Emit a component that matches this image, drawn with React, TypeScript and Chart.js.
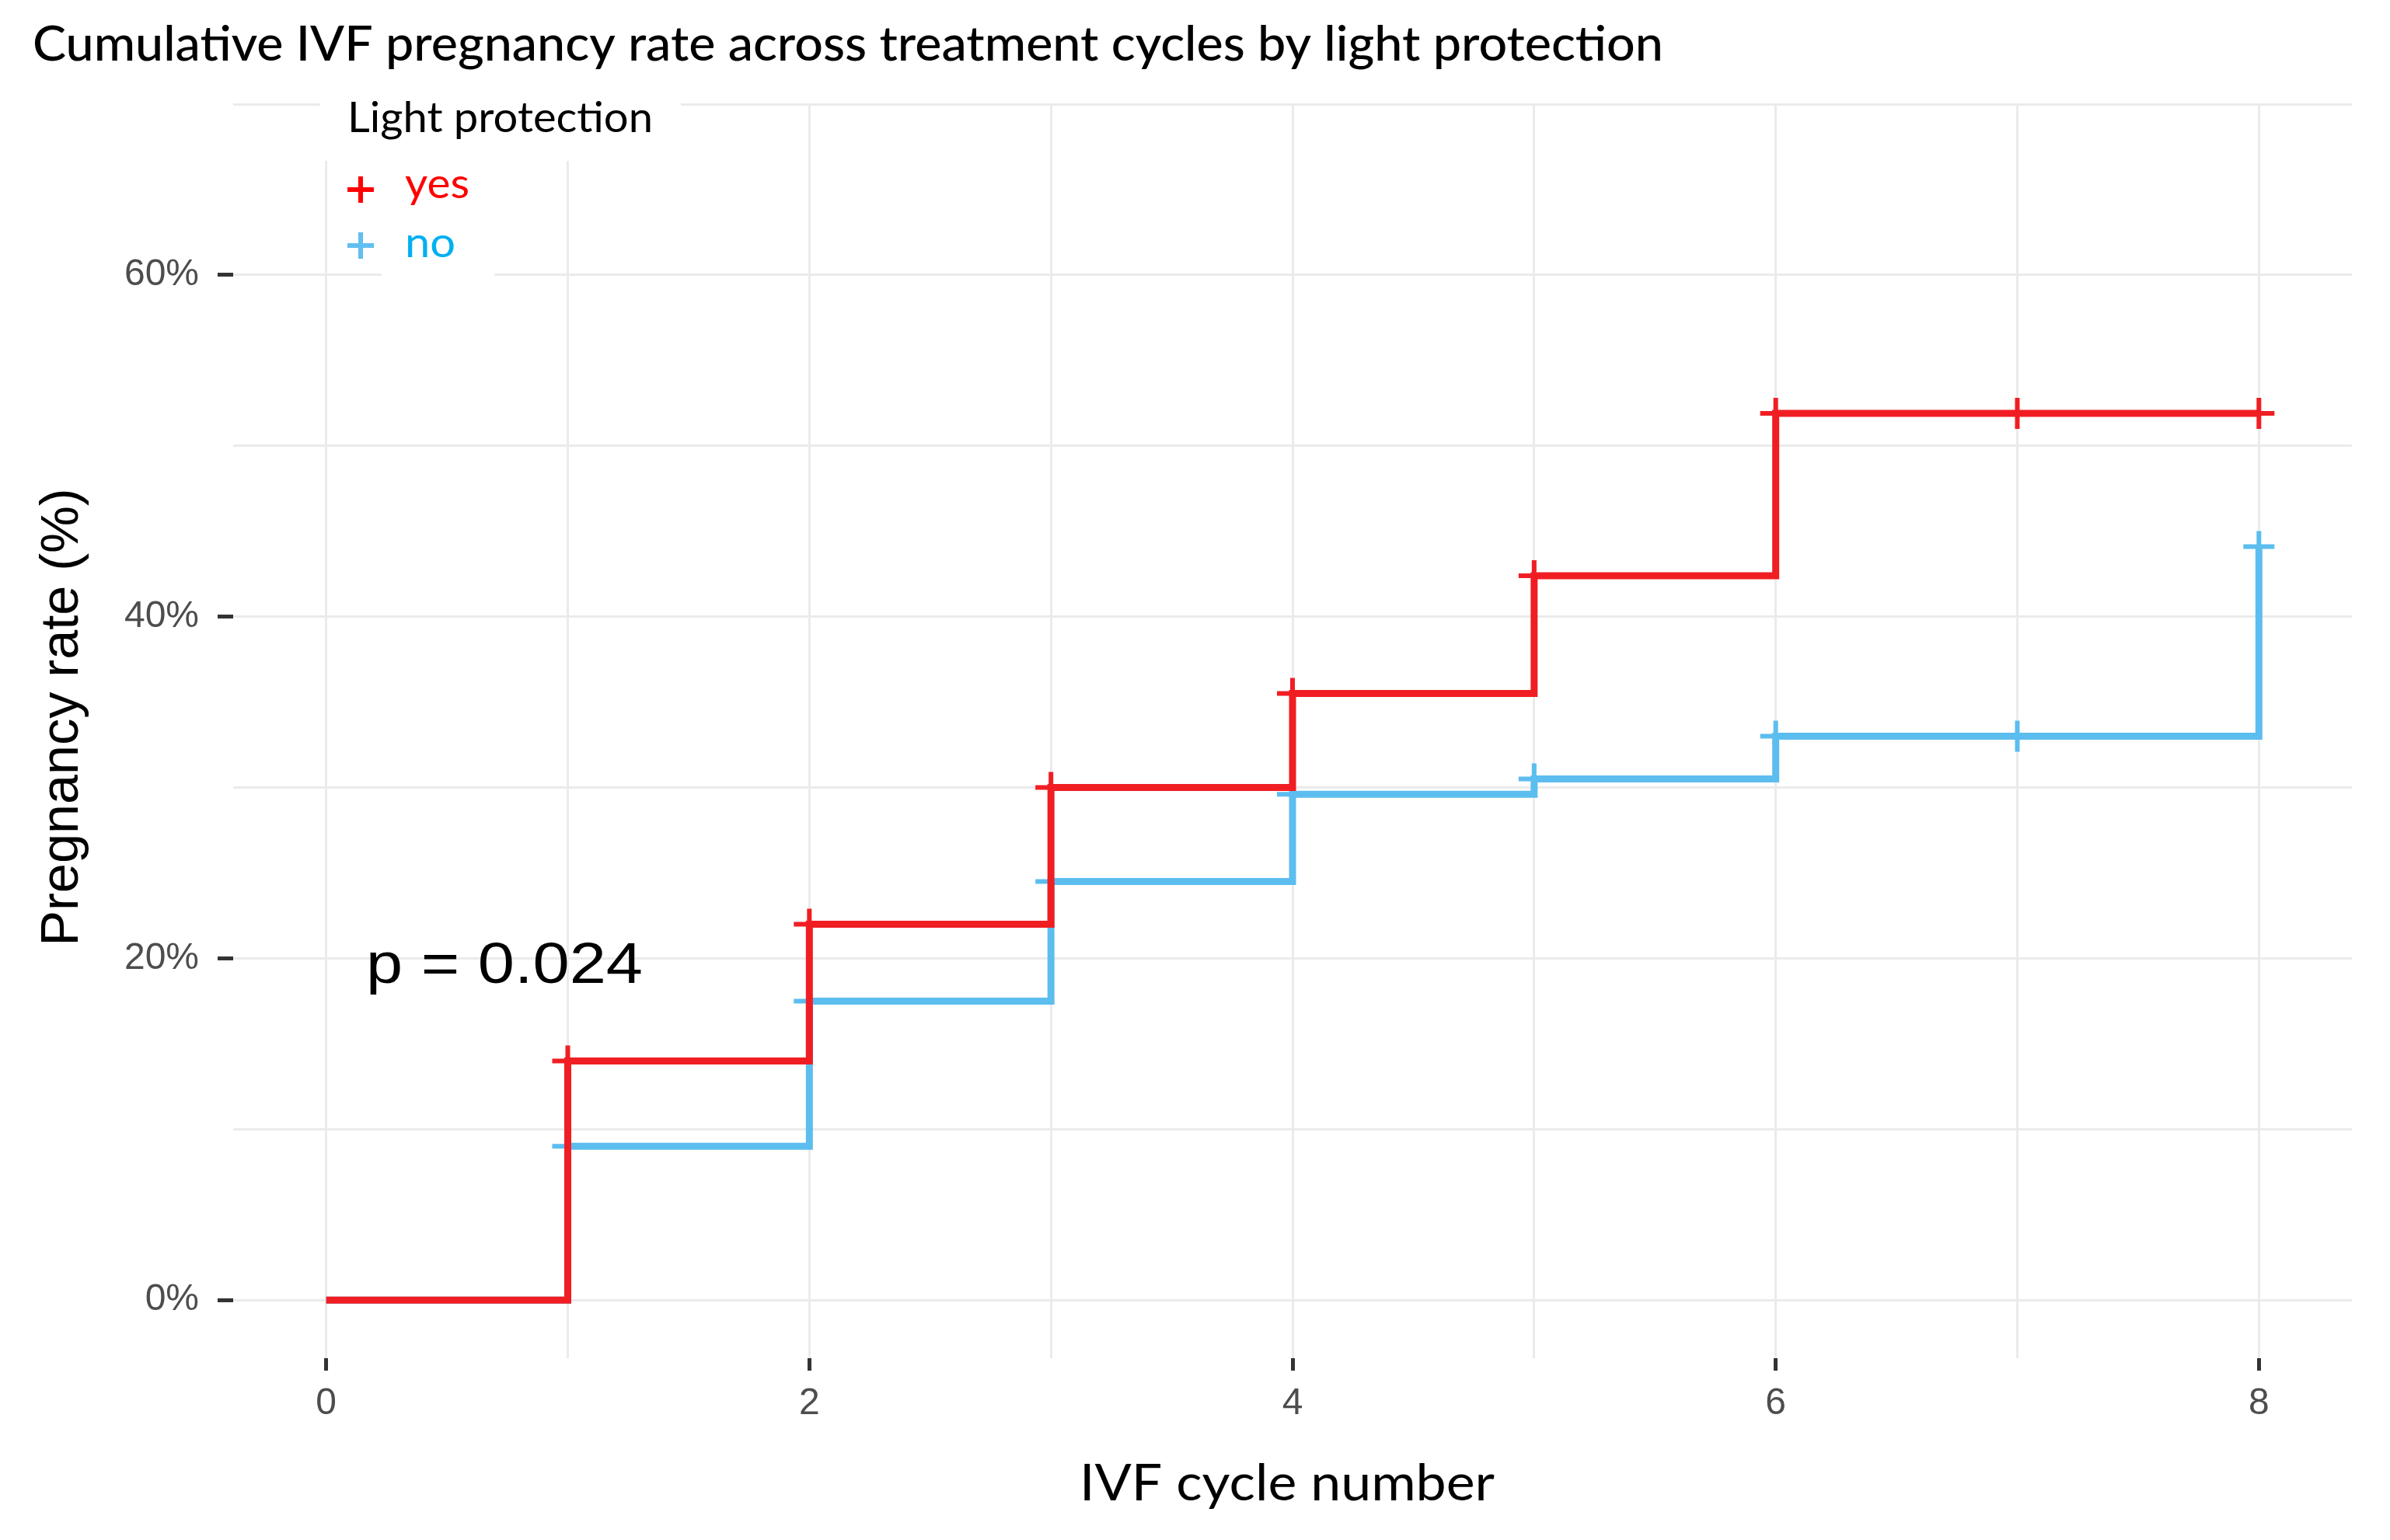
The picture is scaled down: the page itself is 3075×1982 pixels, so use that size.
import { useEffect, useRef } from "react";
import { Chart, registerables, type Plugin } from "chart.js";

Chart.register(...registerables);

// IVF cycle number (x) and cumulative pregnancy rate in % (y)
const cycles = [0, 1, 2, 3, 4, 5, 6, 7, 8];
const yesRate = [0, 14.0, 22.0, 30.0, 35.5, 42.4, 51.9, 51.9, 51.9];
const noRate = [0, 9.0, 17.5, 24.5, 29.6, 30.5, 33.0, 33.0, 44.1];
const censoredCycles = [1, 2, 3, 4, 5, 6, 7, 8];
const groupLabels = ["yes", "no"];
const xTickLabels = ["0", "2", "4", "6", "8"];
const yTickLabels = ["0%", "20%", "40%", "60%"];

const TITLE = "Cumulative IVF pregnancy rate across treatment cycles by light protection";
const LEGEND_TITLE = "Light protection";
const P_VALUE = "p = 0.024";

const W = 3075;
const H = 1982;
const RED = "#F01E23";
const BLUE = "#5CBDEF";
const LABEL_COLORS = ["#FF0000", "#00B0F0"];
const SYMBOL_COLORS = ["#FF0000", "#62BEF0"];
const CALIBRI = "Lato, 'Open Sans', sans-serif";
const ARIAL = "'Liberation Sans', Arial, sans-serif";

// draw text squeezed/stretched horizontally to a given width
function drawText(
  ctx: CanvasRenderingContext2D,
  text: string,
  x: number,
  y: number,
  font: string,
  color: string,
  width?: number,
  align: CanvasTextAlign = "left",
  rotate = 0
) {
  ctx.save();
  ctx.font = font;
  ctx.fillStyle = color;
  ctx.textBaseline = "alphabetic";
  ctx.textAlign = align;
  const w = ctx.measureText(text).width;
  ctx.translate(x, y);
  if (rotate) ctx.rotate(rotate);
  ctx.scale(width ? width / w : 1, 1);
  ctx.fillText(text, 0, 0);
  ctx.restore();
}

const annotations: Plugin<"line"> = {
  id: "annotations",
  afterDraw(chart) {
    const ctx = chart.ctx;
    const area = chart.chartArea;

    // titles
    drawText(ctx, TITLE, 42, 78, `500 62px ${CALIBRI}`, "#000", 2098);
    drawText(ctx, "IVF cycle number", (area.left + area.right) / 2 - 7, 1931, `66px ${CALIBRI}`, "#000", 534, "center");
    drawText(ctx, "Pregnancy rate (%)", 100, 923, `68px ${ARIAL}`, "#000", 589, "center", -Math.PI / 2);

    // p value
    drawText(ctx, P_VALUE, 471, 1265, `74px ${ARIAL}`, "#000", 356);

    // legend with white background
    ctx.save();
    ctx.fillStyle = "#FFFFFF";
    ctx.fillRect(412, 100, 464, 107);
    ctx.fillRect(491, 290, 145, 72);
    ctx.restore();
    drawText(ctx, LEGEND_TITLE, 447, 170, `55px ${CALIBRI}`, "#000", 393);
    const rows = [
      { y: 244, base: 255, width: 83 },
      { y: 316, base: 331, width: 65 }
    ];
    chart.data.datasets.forEach((ds, i) => {
      const r = rows[i];
      ctx.save();
      ctx.strokeStyle = SYMBOL_COLORS[i];
      ctx.lineWidth = 6;
      ctx.beginPath();
      ctx.moveTo(447, r.y);
      ctx.lineTo(481, r.y);
      ctx.moveTo(464, r.y - 17);
      ctx.lineTo(464, r.y + 17);
      ctx.stroke();
      ctx.restore();
      drawText(ctx, String(ds.label), 521, r.base, `55px ${CALIBRI}`, LABEL_COLORS[i], r.width);
    });
  }
};

export default function App() {
  const canvasRef = useRef<HTMLCanvasElement | null>(null);

  useEffect(() => {
    document.body.style.margin = "0";
    if (!canvasRef.current) return;

    const pointRadius = cycles.map((c) => (censoredCycles.includes(c) ? 20 : 0));
    const series = [
      { label: groupLabels[0], data: yesRate, color: RED },
      { label: groupLabels[1], data: noRate, color: BLUE }
    ];

    const chart = new Chart(canvasRef.current, {
      type: "line",
      data: {
        datasets: series.map((s, i) => ({
          label: s.label,
          data: cycles.map((c, j) => ({ x: c, y: s.data[j] })),
          borderColor: s.color,
          backgroundColor: s.color,
          borderWidth: 9,
          stepped: true,
          fill: false,
          pointStyle: "cross",
          pointRadius,
          pointBorderWidth: 6,
          pointBorderColor: s.color,
          order: i
        }))
      },
      options: {
        animation: false,
        responsive: false,
        devicePixelRatio: 1,
        layout: { padding: { left: 0, right: W - 3026, top: 134, bottom: 0 } },
        plugins: { legend: { display: false }, tooltip: { enabled: false }, title: { display: false } },
        scales: {
          x: {
            type: "linear",
            min: -0.385,
            max: 8.385,
            border: { display: false },
            grid: {
              color: "#EBEBEB",
              lineWidth: 3,
              drawTicks: true,
              tickLength: 16,
              tickWidth: 5,
              tickColor: (c: any) => (xTickLabels.includes(String(c.tick?.value)) ? "#333333" : "rgba(0,0,0,0)")
            },
            ticks: {
              stepSize: 1,
              includeBounds: false,
              autoSkip: false,
              maxRotation: 0,
              padding: 14,
              color: "#4D4D4D",
              font: { family: ARIAL, size: 48 },
              callback: (v: any) => (xTickLabels.includes(String(v)) ? String(v) : "")
            },
            afterFit: (scale: any) => {
              scale.height = H - 1748;
            }
          },
          y: {
            type: "linear",
            min: -3.4,
            max: 70,
            border: { display: false },
            grid: {
              color: "#EBEBEB",
              lineWidth: 3,
              drawTicks: true,
              tickLength: 20,
              tickWidth: 5,
              tickColor: (c: any) => (yTickLabels.includes(`${c.tick?.value}%`) ? "#333333" : "rgba(0,0,0,0)")
            },
            ticks: {
              stepSize: 10,
              includeBounds: false,
              padding: 24,
              color: "#4D4D4D",
              font: { family: ARIAL, size: 48 },
              callback: (v: any) => (yTickLabels.includes(`${v}%`) ? `${v}%` : "")
            },
            afterFit: (scale: any) => {
              scale.width = 300;
            }
          }
        }
      },
      plugins: [annotations]
    });

    return () => {
      chart.destroy();
    };
  }, []);

  return <canvas ref={canvasRef} width={W} height={H} style={{ display: "block", width: W, height: H }} />;
}
